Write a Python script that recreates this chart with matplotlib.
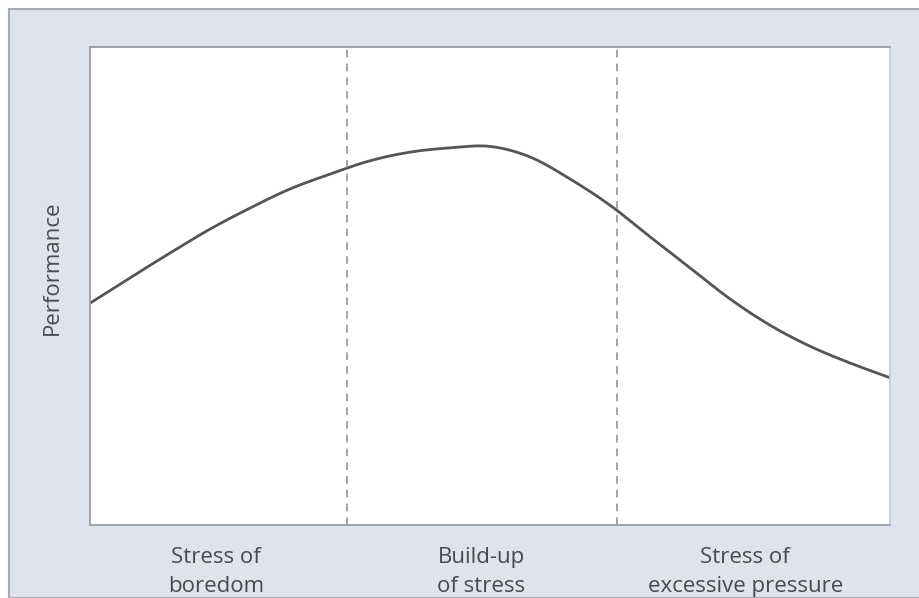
import numpy as np
import matplotlib
matplotlib.use('Agg')
import matplotlib.pyplot as plt
from matplotlib.patches import Rectangle
from matplotlib.transforms import blended_transform_factory

# Curva de desempenho (escala 0-10)
stress_x = [0, 0.5, 1, 1.5, 2, 2.5, 3, 3.5, 4, 4.5, 5, 5.5, 6, 6.5, 7, 7.5, 8, 8.5, 9, 9.5, 10]
performance = [4.64, 5.17, 5.69, 6.19, 6.63, 7.03, 7.34, 7.62, 7.80, 7.89, 7.92, 7.70, 7.24,
               6.69, 6.03, 5.38, 4.73, 4.18, 3.74, 3.39, 3.08]
divisores = [3.21, 6.59]
zonas = ['Stress of\nboredom', 'Build-up\nof stress', 'Stress of\nexcessive pressure']
zonas_x = [1.575, 4.89, 8.19]


def catmull_rom(x, y, n=20):
    # suaviza a curva entre os pontos lidos
    x = np.asarray(x, float)
    y = np.asarray(y, float)
    px = np.concatenate([[2 * x[0] - x[1]], x, [2 * x[-1] - x[-2]]])
    py = np.concatenate([[2 * y[0] - y[1]], y, [2 * y[-1] - y[-2]]])
    t = np.linspace(0, 1, n, endpoint=False)
    xs, ys = [], []
    for i in range(1, len(px) - 2):
        for p, out in ((px, xs), (py, ys)):
            p0, p1, p2, p3 = p[i - 1], p[i], p[i + 1], p[i + 2]
            out.extend(0.5 * (2 * p1 + (-p0 + p2) * t + (2 * p0 - 5 * p1 + 4 * p2 - p3) * t ** 2
                              + (-p0 + 3 * p1 - 3 * p2 + p3) * t ** 3))
    xs.append(x[-1])
    ys.append(y[-1])
    return np.array(xs), np.array(ys)


fig = plt.figure(figsize=(9.19, 5.98), dpi=100)
fig.patch.set_facecolor('white')
W, H = 919, 598

# moldura azul-acinzentada
fig.patches.append(Rectangle((9 / W, 0), 1, 1 - 9 / H, transform=fig.transFigure,
                             facecolor='#dfe3eb', edgecolor='#a8aab0', linewidth=1.5, zorder=-10))

ax = fig.add_axes([90 / W, 1 - 525 / H, 800 / W, 478 / H])
ax.set_zorder(5)
ax.set_facecolor('white')
for s in ax.spines.values():
    s.set_color('#9a9ca2')
    s.set_linewidth(1.3)
ax.spines['right'].set_color('#c8ccd4')

sx, sy = catmull_rom(stress_x, performance)
ax.plot(sx, sy, color='#555555', linewidth=2.0, solid_capstyle='round')
for d in divisores:
    ax.axvline(d, color='#8c8c8c', linewidth=1.1, linestyle=(0, (5, 4)))

ax.set_xlim(0, 10)
ax.set_ylim(0, 10)
ax.set_xticks([])
ax.set_yticks([])

trans = blended_transform_factory(ax.transData, fig.transFigure)
for txt, xz in zip(zonas, zonas_x):
    ax.text(xz, 1 - 572 / H, txt, ha='center', va='center', fontsize=16, family='Open Sans',
            color='#4a4a4a', linespacing=1.45, transform=trans)

fig.text(52 / W, 1 - 268 / H, 'Performance', rotation=90, ha='center', va='center',
         fontsize=16, family='Open Sans', color='#4a4a4a')

fig.savefig('out.png', dpi=100)
plt.close(fig)
